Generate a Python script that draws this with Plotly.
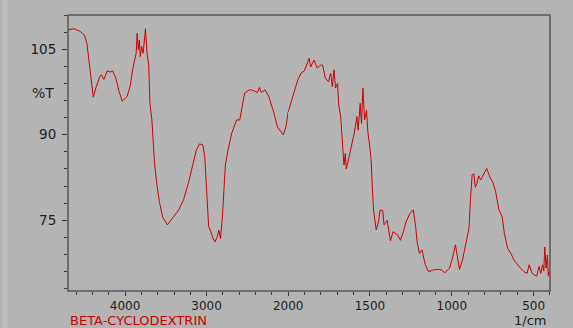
import plotly.graph_objects as go

# Wavenumber (1/cm) and transmittance (%T)
wavenumber = [4700, 4627, 4548, 4500, 4468, 4438, 4417, 4390, 4358, 4311, 4291, 4260,
              4220, 4184, 4153, 4113, 4074, 4035, 3975, 3935, 3908, 3884, 3864, 3852,
              3837, 3825, 3813, 3798, 3778, 3750, 3730, 3710, 3695, 3671, 3651, 3639,
              3612, 3580, 3540, 3501, 3481, 3422, 3343, 3283, 3224, 3165, 3126, 3087,
              3046, 3023, 3007, 2995, 2975, 2948, 2921, 2897, 2869, 2850, 2830, 2809,
              2790, 2770, 2738, 2691, 2632, 2593, 2565, 2533, 2474, 2415, 2376, 2352,
              2328, 2284, 2237, 2178, 2130, 2098, 2059, 2027, 2000,
              1970, 1941, 1921, 1901, 1872, 1862, 1842, 1822, 1803, 1789, 1773, 1753,
              1740, 1730, 1720, 1710, 1698, 1691, 1679, 1670, 1663, 1659, 1651, 1645,
              1641, 1625, 1611, 1596, 1580, 1572, 1560, 1552, 1543, 1533, 1521, 1513,
              1501, 1493, 1485, 1478, 1462, 1448, 1438, 1422, 1414, 1395, 1375, 1359,
              1330, 1314, 1296, 1280, 1256, 1235, 1221, 1211, 1197, 1182, 1162, 1142,
              1112, 1083, 1063, 1043, 1014, 994, 978, 965, 953, 935, 915, 895, 886, 876,
              866, 856, 846, 836, 823, 807, 787, 767, 747, 732, 712, 692, 679, 659, 639,
              620, 600, 580, 560, 540, 527, 511, 495, 481, 467, 456, 446, 438, 432, 424,
              416, 410, 405]
transmittance = [108.4, 108.6, 108.1, 107.5, 106.0, 102.5, 99.0, 96.6, 98.2, 100.2, 100.5, 99.7,
                 101.2, 101.0, 101.2, 99.9, 97.6, 95.9, 96.7, 98.7, 101.4, 102.8, 104.3, 107.8,
                 104.9, 106.6, 103.7, 105.5, 104.3, 108.6, 104.3, 102.2, 95.5, 92.6, 87.9, 85.0,
                 81.5, 78.3, 75.6, 74.5, 74.2, 75.3, 76.8, 78.6, 81.5, 85.0, 87.3, 88.4,
                 88.2, 86.2, 81.5, 77.4, 73.9, 73.0, 71.8, 71.2, 72.1, 73.3, 71.8, 75.0,
                 79.7, 84.7, 87.3, 90.3, 92.6, 92.6, 94.9, 97.3, 97.9, 97.7, 97.4, 98.3,
                 97.4, 97.9, 96.7, 94.0, 91.3, 90.8, 90.0, 91.4, 94.0,
                 96.8, 99.6, 100.8, 101.2, 103.4, 101.9, 103.1, 101.7, 102.2, 102.2, 99.9, 99.3,
                 100.8, 98.4, 101.4, 98.2, 99.0, 95.2, 93.2, 89.4, 87.3, 84.7, 86.7, 84.0,
                 84.4, 86.4, 87.9, 90.3, 93.2, 90.8, 95.5, 92.0, 98.2, 92.6, 94.3, 90.5,
                 87.9, 85.6, 80.3, 76.8, 73.3, 74.7, 76.8, 76.7, 74.2, 75.0, 71.4, 73.0,
                 72.4, 71.5, 73.0, 74.7, 76.2, 76.8, 73.9, 71.0, 69.2, 69.8, 67.2, 66.0,
                 66.3, 66.4, 66.3, 65.8, 66.6, 68.6, 70.7, 68.0, 66.4, 68.0, 71.0, 73.6, 78.6, 82.9,
                 83.2, 80.8, 81.5, 82.8, 82.1, 83.1, 84.1, 82.6, 81.5, 80.0, 76.8, 75.6, 72.7, 70.1, 69.2,
                 68.0, 67.2, 66.6, 66.0, 65.7, 67.2, 65.8, 65.4, 65.2, 66.9, 65.7, 67.2, 66.1, 70.3, 66.6,
                 68.9, 65.2, 66.0]

y_ticks = [105, 90, 75]
x_ticks_high = [4000, 3000, 2000]
x_ticks_low = [1500, 1000, 500]
x_range_high = [4700, 2000]
x_range_low = [2000, 400]
y_range = [62.6, 111.0]

hi = [(w, t) for w, t in zip(wavenumber, transmittance) if w >= 2000]
lo = [(w, t) for w, t in zip(wavenumber, transmittance) if w <= 2000]

RED = "#cc0000"
FONT = "DejaVu Sans"
line = dict(color=RED, width=1)

fig = go.Figure()
fig.add_trace(go.Scatter(x=[p[0] for p in hi], y=[p[1] for p in hi], mode="lines",
                         line=line, xaxis="x", yaxis="y", hoverinfo="skip"))
fig.add_trace(go.Scatter(x=[p[0] for p in lo], y=[p[1] for p in lo], mode="lines",
                         line=line, xaxis="x2", yaxis="y", hoverinfo="skip"))

L, R, T, B = 68, 8, 15, 37
W, H = 573, 328
pw, ph = W - L - R, H - T - B
split = (295 - L) / pw

tickfont = dict(family=FONT, size=12, color="#1e1e1e")
axcommon = dict(showgrid=False, zeroline=False, showline=False, ticks="outside",
                ticklen=4, tickwidth=1, tickcolor="#3a3a3a", tickfont=tickfont)

fig.update_layout(
    width=W, height=H, margin=dict(l=L, r=R, t=T, b=B),
    paper_bgcolor="#b4b4b4", plot_bgcolor="#b4b4b4", showlegend=False,
    xaxis=dict(domain=[0, split], range=x_range_high, tickvals=x_ticks_high,
               ticktext=[str(v) for v in x_ticks_high], anchor="y", ticklabelstandoff=0,
               minor=dict(ticks="outside", ticklen=3, dtick=200, tick0=0, tickcolor="#3a3a3a"),
               **axcommon),
    xaxis2=dict(domain=[split, 1], range=x_range_low, tickvals=x_ticks_low,
                ticktext=[str(v) for v in x_ticks_low], anchor="y", ticklabelstandoff=0,
                minor=dict(ticks="outside", ticklen=3, dtick=100, tick0=0, tickcolor="#3a3a3a"),
                **axcommon),
    yaxis=dict(range=y_range, tickvals=y_ticks, ticktext=[str(v) for v in y_ticks],
               anchor="x", ticklabelstandoff=3,
               minor=dict(ticks="outside", ticklen=3, dtick=3, tick0=0, tickcolor="#3a3a3a"),
               **{**axcommon, "ticklen": 5, "tickfont": dict(family=FONT, size=13.5, color="#1e1e1e")}),
    shapes=[
        dict(type="rect", xref="paper", yref="paper", x0=0, x1=1, y0=0, y1=1,
             line=dict(color="#555555", width=1.5), layer="above"),
        dict(type="rect", xref="paper", yref="paper", x0=-L / pw, x1=(6 - L) / pw,
             y0=-B / ph, y1=1 + T / ph, fillcolor="#bdbdbd", line=dict(width=0), layer="below"),
    ],
    annotations=[
        dict(text="%T", xref="paper", yref="y", x=(42 - L) / pw, y=97.4, showarrow=False,
             xanchor="center", yanchor="middle", font=dict(family=FONT, size=14, color="#1e1e1e")),
        dict(text="BETA-CYCLODEXTRIN", xref="paper", yref="paper", x=0, y=-(320 - (T + ph)) / ph,
             showarrow=False, xanchor="left", yanchor="middle",
             font=dict(family=FONT, size=13, color=RED)),
        dict(text="1/cm", xref="paper", yref="paper", x=(563 - L) / pw, y=-(320 - (T + ph)) / ph,
             showarrow=False, xanchor="right", yanchor="middle",
             font=dict(family=FONT, size=13, color="#1e1e1e")),
    ],
)

fig.write_html("out.html")
